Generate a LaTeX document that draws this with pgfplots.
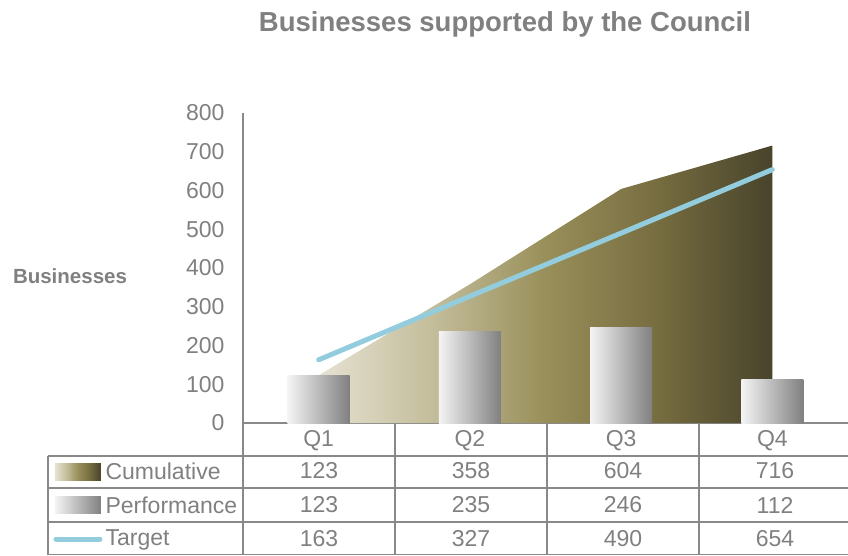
\documentclass[border=0pt]{standalone}
\usepackage{pgfplots}
\pgfplotsset{compat=1.18}
\usepackage{fontspec}
\setmainfont{Liberation Sans}
\definecolor{textgray}{RGB}{128,128,128}
\definecolor{linegray}{RGB}{137,137,137}
\definecolor{cumA}{RGB}{230,226,210}
\definecolor{cumB}{RGB}{195,189,155}
\definecolor{cumC}{RGB}{153,143,90}
\definecolor{cumD}{RGB}{118,108,64}
\definecolor{cumE}{RGB}{72,67,43}
\definecolor{barL}{RGB}{244,244,244}
\definecolor{barR}{RGB}{128,128,128}
\definecolor{targetblue}{RGB}{147,205,221}
\pgfdeclarehorizontalshading{cumshade}{100bp}{color(0bp)=(cumA); color(25bp)=(cumA); color(37.5bp)=(cumB); color(50bp)=(cumC); color(62.5bp)=(cumD); color(75bp)=(cumE); color(100bp)=(cumE)}
\begin{document}
\begin{tikzpicture}
\useasboundingbox (-243pt,-132pt) rectangle (605pt,423pt);
\begin{axis}[
  at={(0pt,0pt)}, anchor=south west,
  scale only axis, width=605pt, height=310pt,
  xmin=-0.5, xmax=3.5, ymin=0, ymax=800,
  axis lines=left,
  axis line style={-, draw=linegray, line width=1.5pt},
  major tick length=0pt,
  xtick={0,1,2,3}, xticklabels={Q1,Q2,Q3,Q4},
  ytick={0,100,...,800},
  /pgf/number format/assume math mode=true,
  tick label style={font=\fontsize{23}{27}\selectfont, text=textgray},
  xticklabel style={anchor=center, yshift=-18pt},
  yticklabel style={xshift=-15pt},
  clip=false,
]
\addplot[draw=none, shading=cumshade]
  coordinates {(0,123) (1,358) (2,604) (3,716)} \closedcycle;
\addplot[ybar, bar width=62pt, draw=none, left color=barL, right color=barR]
  coordinates {(0,123)};
\addplot[ybar, bar width=62pt, draw=none, left color=barL, right color=barR]
  coordinates {(1,235)};
\addplot[ybar, bar width=62pt, draw=none, left color=barL, right color=barR]
  coordinates {(2,246)};
\addplot[ybar, bar width=62pt, draw=none, left color=barL, right color=barR]
  coordinates {(3,112)};
\addplot[line width=5pt, color=targetblue, line cap=round]
  coordinates {(0,163) (1,327) (2,490) (3,654)};
\end{axis}
% data table
\begin{scope}[linegray, line width=1.5pt]
\draw (-195pt,-33pt) -- (605pt,-33pt);
\draw (-195pt,-65pt) -- (605pt,-65pt);
\draw (-195pt,-99pt) -- (605pt,-99pt);
\draw (-195pt,-131.5pt) -- (605pt,-131.5pt);
\draw (-195pt,-33pt) -- (-195pt,-132pt);
\foreach \x in {0,152,304,456} \draw (\x pt,0pt) -- (\x pt,-132pt);
\end{scope}
\begin{scope}[every node/.style={font=\fontsize{23}{27}\selectfont, text=textgray}]
\shade[shading=cumshade] (-188pt,-40pt) rectangle (-142pt,-57pt);
\shade[left color=barL, right color=barR] (-188pt,-73pt) rectangle (-142pt,-90pt);
\draw[targetblue, line width=5pt, line cap=round] (-187pt,-116pt) -- (-143pt,-116pt);
\node[anchor=west] at (-141pt,-48pt) {Cumulative};
\node[anchor=west] at (-141pt,-82pt) {Performance};
\node[anchor=west] at (-141pt,-117pt) {Target};
\foreach \x/\a/\b/\c in {76/123/123/163, 228/358/235/327, 380/604/246/490, 532/716/112/654} {
  \node at (\x pt,-48pt) {\a};
  \node at (\x pt,-82pt) {\b};
  \node at (\x pt,-116pt) {\c};
}
\end{scope}
\node[font=\bfseries\fontsize{20.5}{24}\selectfont, text=textgray] at (-173pt,147pt) {Businesses};
\node[font=\bfseries\fontsize{27.5}{30}\selectfont, text=textgray] at (262pt,399pt) {Businesses supported by the Council};
\end{tikzpicture}
\end{document}
